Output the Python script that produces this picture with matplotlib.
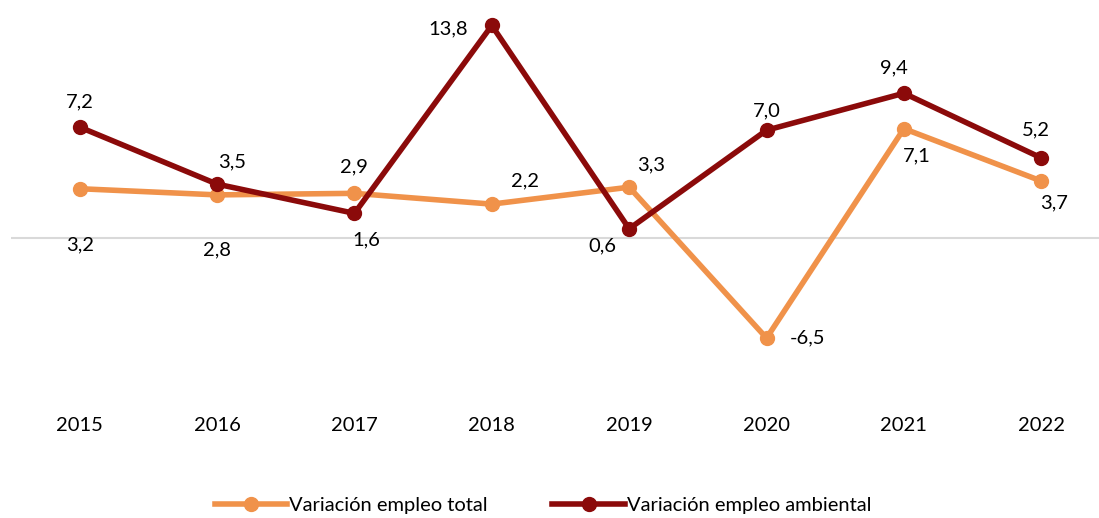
import matplotlib.pyplot as plt

# Datos
anios = ['2015', '2016', '2017', '2018', '2019', '2020', '2021', '2022']
empleo_total = [3.2, 2.8, 2.9, 2.2, 3.3, -6.5, 7.1, 3.7]
empleo_ambiental = [7.2, 3.5, 1.6, 13.8, 0.6, 7.0, 9.4, 5.2]

# desplazamiento de las etiquetas (pixeles)
off_total = [(0, -56), (0, -55), (0, 26), (33, 23), (22, 22), (41, 0), (13, -27), (13, -22)]
off_amb = [(0, 25), (15, 22), (12, -27), (-44, -3), (-27, -17), (0, 19), (-10, 25), (-5, 28)]

naranja = '#F0924A'
rojo = '#8B0A0A'

plt.rcParams['font.family'] = ['Lato', 'DejaVu Sans']

fig = plt.figure(figsize=(10.99, 5.18), dpi=100)
ax = fig.add_axes([11 / 1099, 1 - 392 / 518, 1 - 11 / 1099, 385 / 518])

x = list(range(len(anios)))
ax.axhline(0, color='#D9D9D9', lw=1.5, zorder=1)
ax.plot(x, empleo_total, color=naranja, lw=4, marker='o', ms=10,
        label='Variación empleo total', zorder=3)
ax.plot(x, empleo_ambiental, color=rojo, lw=4, marker='o', ms=10,
        label='Variación empleo ambiental', zorder=4)

for i in x:
    ax.annotate(f'{empleo_total[i]:.1f}'.replace('.', ','), (i, empleo_total[i]),
                xytext=off_total[i], textcoords='offset pixels',
                ha='center', va='center', fontsize=14.5)
    ax.annotate(f'{empleo_ambiental[i]:.1f}'.replace('.', ','), (i, empleo_ambiental[i]),
                xytext=off_amb[i], textcoords='offset pixels',
                ha='center', va='center', fontsize=14.5)

ax.set_xlim(-0.5, 7.42)
ax.set_ylim(-10, 15)
ax.set_xticks(x)
ax.set_xticklabels(anios, fontsize=14.5)
ax.tick_params(axis='x', length=0, pad=18)
ax.set_yticks([])
for s in ax.spines.values():
    s.set_visible(False)

fig.legend(loc='center', bbox_to_anchor=(543 / 1099, 1 - 505 / 518), ncol=2,
           frameon=False, fontsize=14.5, handlelength=3.6, handletextpad=0.1,
           columnspacing=3.2)

fig.savefig('out.png', dpi=100)
